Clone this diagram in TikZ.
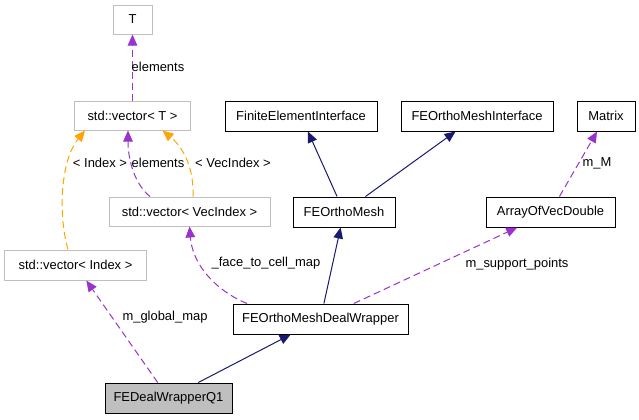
\documentclass[tikz,border=0pt]{standalone}
\usepackage{fontspec}
\setmainfont{Liberation Sans}
\usetikzlibrary{arrows.meta,calc}
\definecolor{navyedge}{HTML}{191970}
\definecolor{purpedge}{HTML}{9A32CD}
\definecolor{orangeedge}{HTML}{FFA500}
\definecolor{graybox}{HTML}{BFBFBF}
\tikzset{
  box/.style={draw=black, line width=1bp, minimum height=30bp, inner sep=0pt, font=\fontsize{13}{15}\selectfont, text=black},
  extbox/.style={box, draw=graybox},
  mainbox/.style={box, fill=graybox},
  tip/.style={-{Triangle[length=11bp,width=9.5bp]}},
  inherit/.style={tip, draw=navyedge, line width=1bp},
  usage/.style={tip, draw=purpedge, line width=1bp, dash pattern=on 7bp off 4bp},
  templ/.style={tip, draw=orangeedge, line width=1bp, dash pattern=on 7bp off 4bp},
  lbl/.style={font=\fontsize{13}{15}\selectfont, inner sep=0pt, text=black}
}
\begin{document}
\begin{tikzpicture}[x=1bp, y=-1bp]
\useasboundingbox (0,0) rectangle (639,419);
% nodes
\node[extbox, minimum width=39bp, minimum height=29bp] (T) at (132.5,19.5) {T};
\node[extbox, minimum width=116bp, minimum height=29bp] (vT) at (132.5,115.5) {std::vector< T >};
\node[box, minimum width=152bp] (FEI) at (301,116) {FiniteElementInterface};
\node[box, minimum width=152bp] (FOMI) at (477,116) {FEOrthoMeshInterface};
\node[box, minimum width=58bp] (Mat) at (606,116) {Matrix};
\node[extbox, minimum width=161bp, minimum height=29bp] (vVI) at (189.5,211.5) {std::vector< VecIndex >};
\node[box, minimum width=102bp] (FOM) at (344,212) {FEOrthoMesh};
\node[box, minimum width=129bp] (AVD) at (550.5,212) {ArrayOfVecDouble};
\node[extbox, minimum width=141bp] (vI) at (75.5,265) {std::vector< Index >};
\node[box, minimum width=175bp] (FOMDW) at (320.5,319) {FEOrthoMeshDealWrapper};
\node[mainbox, minimum width=127bp] (Q1) at (168.5,398) {FEDealWrapperQ1};
% edges
\draw[usage] (vT) -- (T);
\draw[templ] ($(vI.north)+(-7.5,0)$) .. controls ($(vI.north)+(-17.5,-35)$) and ($(vT.south)+(-72,30)$) .. ($(vT.south)+(-47.5,0)$);
\draw[templ] ($(vVI.north)+(3.5,0)$) .. controls ($(vVI.north)+(4.5,-27)$) and ($(vT.south)+(52,18)$) .. ($(vT.south)+(30,0)$);
\draw[usage] ($(vVI.north)+(-39.5,0)$) .. controls ($(vVI.north)+(-54.5,-12)$) and ($(vT.south)+(-4.5,30)$) .. ($(vT.south)+(-4.5,0)$);
\draw[inherit] (FOM) -- (FEI);
\draw[inherit] (FOM) -- (FOMI);
\draw[usage] (AVD) -- (Mat);
\draw[inherit] (FOMDW) -- (FOM);
\draw[usage] ($(FOMDW.north)+(-73.5,0)$) .. controls ($(FOMDW.north)+(-105,-13)$) and ($(vVI.south)+(3,38)$) .. ($(vVI.south)+(0,0)$);
\draw[usage] (FOMDW) -- (AVD);
\draw[usage] (Q1) -- (vI);
\draw[inherit] (Q1) -- (FOMDW);
% labels
\node[lbl] (l1) at (158,67) {elements};
\node[lbl] (l2) at (100,163) {< Index >};
\node[lbl] (l3) at (158,163) {elements};
\node[lbl] (l4) at (233,163) {< VecIndex >};
\node[lbl] (l5) at (597,163) {m\_M};
\node[lbl] (l6) at (266,263) {\_face\_to\_cell\_map};
\node[lbl] (l7) at (517,264) {m\_support\_points};
\node[lbl] (l8) at (165,317) {m\_global\_map};
\end{tikzpicture}
\end{document}
